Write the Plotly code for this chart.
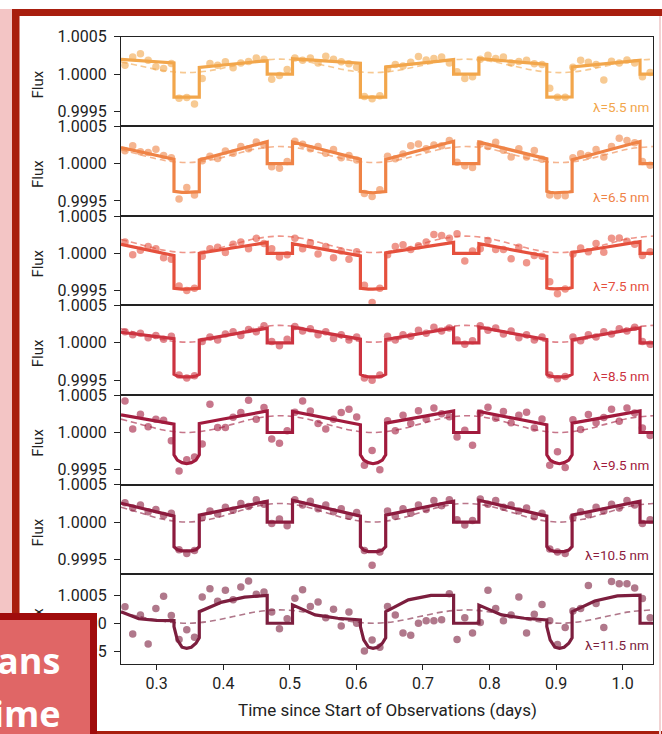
import plotly.graph_objects as go

W, H = 662, 734

# ---------------------------------------------------------------- data
WAVELENGTHS = ["5.5", "6.5", "7.5", "8.5", "9.5", "10.5", "11.5"]
COLORS = ["#F2A64B", "#EF8346", "#E5503D", "#CC3340", "#A11A3D", "#8C1B3E", "#7C1E3E"]

# binned observation times (days)
OBS_T = [
    0.2524, 0.2640, 0.2756, 0.2872, 0.2988, 0.3104, 0.3220,
    0.3336, 0.3452, 0.3568,
    0.3684, 0.3800, 0.3916, 0.4032, 0.4148, 0.4264, 0.4380, 0.4496, 0.4612,
    0.4728, 0.4844, 0.4960,
    0.5076, 0.5192, 0.5308, 0.5424, 0.5540, 0.5656, 0.5772, 0.5888, 0.6004,
    0.6120, 0.6236, 0.6352,
    0.6468, 0.6584, 0.6700, 0.6816, 0.6932, 0.7048, 0.7164, 0.7280, 0.7396,
    0.7512, 0.7628, 0.7744,
    0.7860, 0.7976, 0.8092, 0.8208, 0.8324, 0.8440, 0.8556, 0.8672, 0.8788,
    0.8904, 0.9020, 0.9136,
    0.9252, 0.9368, 0.9484, 0.9600, 0.9716, 0.9832, 0.9948, 1.0064, 1.0180,
    1.0296, 1.0412,
]

# binned flux, in ppm relative to 1
OBS_55 = [119, 230, 274, 186, 98, 75, 141,
          -323, -314, -403,
          -58, 141, 120, 164, 84, 150, 170, 215, 200,
          -70, -20, 60,
          215, 185, 215, 150, 240, 200, 165, 140, 90,
          -300, -330, -290,
          70, 130, 110, 160, 235, 190, 208, 230, 150,
          31, -58, -35,
          200, 252, 208, 230, 150, 170, 185, 140, 130,
          -190, -310, -310,
          90, 185, 160, 130, -80, 172, 150, 190, 150,
          -35, 20]
OBS_65 = [173, 239, 160, 150, 195, 110, 80,
          -474, -318, -420,
          40, 100, 70, 170, 140, 230, 200, 290, 250,
          -40, -60, 30,
          300, 260, 200, 230, 140, 190, 80, 110, 50,
          -400, -440, -350,
          100, 65, 130, 242, 264, 200, 250, 240, 310,
          18, -27, -50,
          264, 230, 287, 180, 88, 200, 88, 177, 60,
          -420, -430, -430,
          80, 133, 110, 190, 88, 230, 341, 310, 280,
          30, -20]
OBS_75 = [150, -20, 40, 90, 60, -60, -80,
          -440, -500, -470,
          -40, 60, 80, 10, 120, 150, 60, 200, 130,
          60, -50, -20,
          200, 60, 140, -10, 90, -60, 30, -80, 20,
          -430, -660, -470,
          -20, 90, 116, 50, 100, 150, 253, 240, 200,
          262, -105, 30,
          60, 170, 50, 50, -75, 80, -128, -30, -40,
          -383, -543, -480,
          -10, 71, 20, 130, 15, 200, 204, 160, 120,
          -30, 20]
OBS_85 = [150, 110, 130, 70, 100, 50, 90,
          -430, -470, -440,
          20, 80, 40, 120, 150, 100, 180, 150, 230,
          20, -40, 50,
          220, 160, 190, 110, 150, 60, 110, 40, 80,
          -470, -500, -430,
          90, 40, 110, 90, 170, 130, 210, 160, 200,
          40, -20, 30,
          230, 170, 200, 120, 160, 70, 110, 40, 80,
          -430, -480, -450,
          80, 30, 110, 80, 150, 120, 190, 160, 210,
          20, -20]
OBS_95 = [422, 46, 245, 76, 179, 165, -110,
          -516, -366, -330,
          -153, 378, 68, 68, 205, 268, 431, 179, 334,
          -87, -144, 23,
          270, 422, 289, 122, 46, 179, 268, 311, 209,
          -441, -242, -499,
          156, 23, 230, 120, 290, 180, 330, 250, 210,
          -60, 30, -170,
          260, 340, 190, 280, 130, 230, 270, 60, 180,
          -440, -260, -470,
          170, 40, 240, 130, 200, 310, 150, 330, 260,
          60, -40]
OBS_105 = [260, 190, 230, 140, 170, 90, 120,
           -370, -420, -380,
           60, 150, 110, 200, 160, 250, 210, 300, 240,
           -20, 40, -50,
           300, 230, 280, 180, 230, 140, 180, 80, 130,
           -380, -580, -400,
           150, 80, 180, 120, 230, 170, 290, 220, 300,
           30, -40, 20,
           310, 240, 290, 200, 230, 150, 190, 70, 120,
           -360, -400, -420,
           60, 140, 100, 200, 150, 240, 190, 290, 230,
           -20, 30]
OBS_115 = [296, -194, 149, -371, 266, 485, 137,
           -293, -116, -252,
           473, 620, 397, 592, 420, 650, 760, 520, 560,
           200, -100, 80,
           450, 600, 300, 380, 100, 250, -50, 200, 0,
           -500, -300, -430,
           300, 150, -176, -217, 0, 43, 43, 61, 532,
           -293, 100, -176,
           13, 592, 266, 43, 149, 473, -176, 160, 337,
           43, -381, -75,
           220, 266, 680, 355, -75, 751, 708, 708, 632,
           443, 100]

# transit / eclipse model, node times and flux (ppm)
MODEL_T = [
    0.2464, 0.273, 0.300,
    0.326, 0.326, 0.331, 0.338, 0.345, 0.352, 0.359, 0.364, 0.364,
    0.398, 0.432,
    0.466, 0.466, 0.504, 0.504,
    0.538, 0.572,
    0.606, 0.606, 0.611, 0.618, 0.625, 0.632, 0.639, 0.644, 0.644,
    0.678, 0.712,
    0.746, 0.746, 0.784, 0.784,
    0.818, 0.852,
    0.886, 0.886, 0.891, 0.898, 0.905, 0.912, 0.919, 0.924, 0.924,
    0.958, 0.992,
    1.026, 1.026, 1.0455,
]
MODEL_55 = [198, 182, 166,
            150, -310, -310, -310, -310, -310, -310, -310, 90,
            120, 150,
            180, 0, 0, 205,
            185, 165,
            145, -310, -310, -310, -310, -310, -310, -310, 95,
            128, 162,
            195, 0, 0, 208,
            182, 156,
            130, -310, -310, -310, -310, -310, -310, -305, 97,
            126, 156,
            185, 0, 0]
MODEL_65 = [217, 165, 113,
            60, -370, -380, -385, -385, -385, -380, -375, 50,
            132, 213,
            295, 0, 0, 290,
            213, 137,
            60, -370, -380, -385, -390, -385, -380, -375, 55,
            137, 218,
            300, 0, 0, 290,
            215, 140,
            65, -370, -385, -390, -390, -385, -380, -375, 52,
            134, 215,
            297, 0, 0]
MODEL_75 = [120, 70, 20,
            -30, -470, -478, -482, -482, -480, -476, -470, 0,
            48, 97,
            145, 0, 0, 130,
            75, 20,
            -35, -470, -478, -482, -482, -480, -476, -470, 5,
            52, 98,
            145, 0, 0, 130,
            73, 17,
            -40, -465, -475, -478, -478, -475, -470, -460, 10,
            58, 107,
            155, 0, 0]
MODEL_85 = [143, 114, 84,
            55, -420, -445, -455, -460, -455, -445, -420, 37,
            90, 144,
            197, 0, 0, 210,
            157, 103,
            50, -420, -445, -455, -460, -455, -445, -420, 45,
            97, 148,
            200, 0, 0, 210,
            155, 100,
            45, -420, -445, -455, -460, -455, -445, -420, 40,
            93, 147,
            200, 0, 0]
MODEL_95 = [236, 195, 153,
            112, -300, -370, -405, -419, -405, -370, -300, 121,
            177, 233,
            289, 0, 0, 281,
            222, 162,
            103, -300, -370, -405, -419, -405, -370, -300, 125,
            180, 234,
            289, 0, 0, 281,
            222, 162,
            103, -300, -370, -405, -419, -405, -370, -300, 125,
            180, 234,
            289, 0, 0]
MODEL_105 = [253, 195, 138,
             80, -330, -370, -385, -390, -385, -370, -330, 93,
             155, 218,
             280, 0, 0, 293,
             222, 151,
             80, -330, -375, -395, -398, -395, -375, -330, 93,
             155, 218,
             280, 0, 0, 293,
             222, 151,
             80, -330, -375, -395, -398, -395, -375, -330, 93,
             155, 218,
             280, 0, 0]
MODEL_115 = [208, 80, 50,
             48, -60, -300, -430, -452, -430, -360, -260, 208,
             380, 470,
             500, 0, 0, 330,
             150, 90,
             60, -60, -300, -430, -452, -430, -360, -260, 208,
             420, 500,
             503, 0, 0, 326,
             150, 90,
             60, -60, -300, -430, -452, -430, -360, -260, 208,
             400, 490,
             503, 0, 0]

# phase-curve-only baseline (dashed), node times and flux (ppm)
BASE_T = [0.2464, 0.275, 0.310, 0.345, 0.380, 0.415, 0.450, 0.485, 0.520, 0.555,
          0.590, 0.625, 0.660, 0.695, 0.730, 0.765, 0.800, 0.835, 0.870, 0.905,
          0.940, 0.975, 1.010, 1.0455]
BASE_55 = [164, 110, 46, 20, 46, 110, 174, 200, 174, 110, 46, 20,
           46, 110, 174, 200, 174, 110, 46, 20, 46, 110, 174, 200]
BASE_65 = [187, 122, 46, 15, 46, 122, 199, 230, 199, 122, 46, 15,
           46, 122, 199, 230, 199, 122, 46, 15, 46, 122, 199, 230]
BASE_75 = [186, 120, 42, 10, 42, 120, 198, 230, 198, 120, 42, 10,
           42, 120, 198, 230, 198, 120, 42, 10, 42, 120, 198, 230]
BASE_85 = [190, 122, 43, 10, 43, 122, 202, 235, 202, 122, 43, 10,
           43, 122, 202, 235, 202, 122, 43, 10, 43, 122, 202, 235]
BASE_95 = [180, 112, 33, 0, 33, 112, 192, 225, 192, 112, 33, 0,
           33, 112, 192, 225, 192, 112, 33, 0, 33, 112, 192, 225]
BASE_105 = [200, 125, 37, 0, 37, 125, 213, 250, 213, 125, 37, 0,
            37, 125, 213, 250, 213, 125, 37, 0, 37, 125, 213, 250]
BASE_115 = [192, 120, 35, 0, 35, 120, 205, 240, 205, 120, 35, 0,
            35, 120, 205, 240, 205, 120, 35, 0, 35, 120, 205, 240]

OBS = [OBS_55, OBS_65, OBS_75, OBS_85, OBS_95, OBS_105, OBS_115]
MODELS = [MODEL_55, MODEL_65, MODEL_75, MODEL_85, MODEL_95, MODEL_105, MODEL_115]
BASES = [BASE_55, BASE_65, BASE_75, BASE_85, BASE_95, BASE_105, BASE_115]

Y_RANGES = [[0.99930, 1.000502]] * 6 + [[0.99927, 1.00088]]
Y_TICKS = [0.9995, 1.0, 1.0005]
Y_TICKTEXT = ["0.9995", "1.0000", "1.0005"]
X_TICKS = [0.3, 0.4, 0.5, 0.6, 0.7, 0.8, 0.9, 1.0]
X_TICKTEXT = ["0.3", "0.4", "0.5", "0.6", "0.7", "0.8", "0.9", "1.0"]


def flux(ppm):
    return [1 + v * 1e-6 for v in ppm]


# ---------------------------------------------------------------- layout geometry (pixels)
def px_x(x):
    return x / W


def px_y(y):
    return 1 - y / H


LEFT, RIGHT = 121, 653
TOP, BOTTOM = 28, 663
N = len(WAVELENGTHS)
PANEL_H = (BOTTOM - TOP) / N

FONT = "Roboto"
INK = "#222222"

fig = go.Figure()
layout = dict(
    width=W, height=H,
    margin=dict(l=0, r=0, t=0, b=0),
    paper_bgcolor="white", plot_bgcolor="white",
    showlegend=False,
    font=dict(family=FONT, color=INK),
)

annotations = []
for i in range(N):
    ax = "" if i == 0 else str(i + 1)
    xref, yref = "x" + ax, "y" + ax
    col = COLORS[i]

    fig.add_trace(go.Scatter(
        x=BASE_T, y=flux(BASES[i]), mode="lines", xaxis=xref, yaxis=yref,
        line=dict(color=col, width=1.6, dash="6px,4px", shape="spline", smoothing=1.0),
        opacity=0.6, hoverinfo="skip"))
    fig.add_trace(go.Scatter(
        x=OBS_T, y=flux(OBS[i]), mode="markers", xaxis=xref, yaxis=yref,
        marker=dict(color=col, size=7.5, opacity=0.6, line=dict(width=0))))
    fig.add_trace(go.Scatter(
        x=MODEL_T, y=flux(MODELS[i]), mode="lines", xaxis=xref, yaxis=yref,
        line=dict(color=col, width=3.2), hoverinfo="skip"))

    top = TOP + i * PANEL_H
    bot = top + PANEL_H
    last = i == N - 1
    layout["xaxis" + ax] = dict(
        domain=[px_x(LEFT), px_x(RIGHT)],
        range=[0.2464, 1.0455],
        anchor=yref,
        showline=True, mirror=True, linecolor=INK, linewidth=1.3,
        showgrid=False, zeroline=False,
        tickvals=X_TICKS, ticktext=X_TICKTEXT,
        ticks="outside" if last else "", ticklen=5, tickwidth=1.2, tickcolor=INK,
        showticklabels=last,
        tickfont=dict(family=FONT, size=16, color=INK),
        **({} if i == 0 else {"matches": "x"}),
    )
    layout["yaxis" + ax] = dict(
        domain=[px_y(bot), px_y(top)],
        range=Y_RANGES[i],
        anchor=xref,
        showline=True, mirror=True, linecolor=INK, linewidth=1.3,
        showgrid=False, zeroline=False,
        tickvals=Y_TICKS, ticktext=Y_TICKTEXT,
        ticks="outside", ticklen=6, tickwidth=1.2, tickcolor=INK,
        ticklabelstandoff=4,
        tickfont=dict(family=FONT, size=16, color=INK),
    )
    # panel labels
    annotations.append(dict(
        text="Flux", textangle=-90, xref="paper", yref="paper",
        x=px_x(38), y=px_y(top + PANEL_H / 2 + 3), xanchor="center", yanchor="middle",
        showarrow=False, font=dict(family=FONT, size=15, color=INK)))
    annotations.append(dict(
        text="λ=" + WAVELENGTHS[i] + " nm", xref="paper", yref="paper",
        x=px_x(651), y=px_y(bot - 19.5), xanchor="right", yanchor="middle",
        showarrow=False, font=dict(family=FONT, size=13.5, color=col)))

annotations.append(dict(
    text="Time since Start of Observations (days)", xref="paper", yref="paper",
    x=px_x((LEFT + RIGHT) / 2), y=px_y(710), xanchor="center", yanchor="middle",
    showarrow=False, font=dict(family=FONT, size=17, color=INK)))

# caption box overlapping the lower-left corner (drawn over the axis labels)
annotations.append(dict(
    text=" ", xref="paper", yref="paper", x=px_x(97), y=px_y(612),
    xanchor="right", yanchor="top", width=120, height=140,
    bgcolor="#E06666", bordercolor="#A00C0C", borderwidth=7, borderpad=0,
    showarrow=False))
annotations.append(dict(
    text="<b>ans</b>", xref="paper", yref="paper", x=px_x(62), y=px_y(660),
    xanchor="right", yanchor="middle", showarrow=False,
    font=dict(family="Open Sans", size=36, color="white")))
annotations.append(dict(
    text="<b>ime</b>", xref="paper", yref="paper", x=px_x(63), y=px_y(713),
    xanchor="right", yanchor="middle", showarrow=False,
    font=dict(family="Open Sans", size=36, color="white")))

# slide frame
FRAME = "#A81E0E"
shapes = [
    dict(type="rect", xref="paper", yref="paper", x0=0, x1=px_x(12), y0=0, y1=1,
         fillcolor="#F3C5C5", line=dict(width=0), layer="below"),
    dict(type="rect", xref="paper", yref="paper", x0=px_x(12), x1=px_x(19.5), y0=0, y1=1,
         fillcolor=FRAME, line=dict(width=0), layer="below"),
    dict(type="rect", xref="paper", yref="paper", x0=px_x(12), x1=1, y0=px_y(7), y1=1,
         fillcolor=FRAME, line=dict(width=0), layer="below"),
    dict(type="rect", xref="paper", yref="paper", x0=px_x(12), x1=1, y0=0, y1=px_y(731),
         fillcolor=FRAME, line=dict(width=0), layer="below"),
    dict(type="line", xref="paper", yref="paper", x0=px_x(660), x1=px_x(660), y0=0, y1=px_y(7),
         line=dict(color="#F2D3D3", width=2), layer="below"),
]

layout["annotations"] = annotations
layout["shapes"] = shapes
fig.update_layout(**layout)

fig.write_html("out.html")
